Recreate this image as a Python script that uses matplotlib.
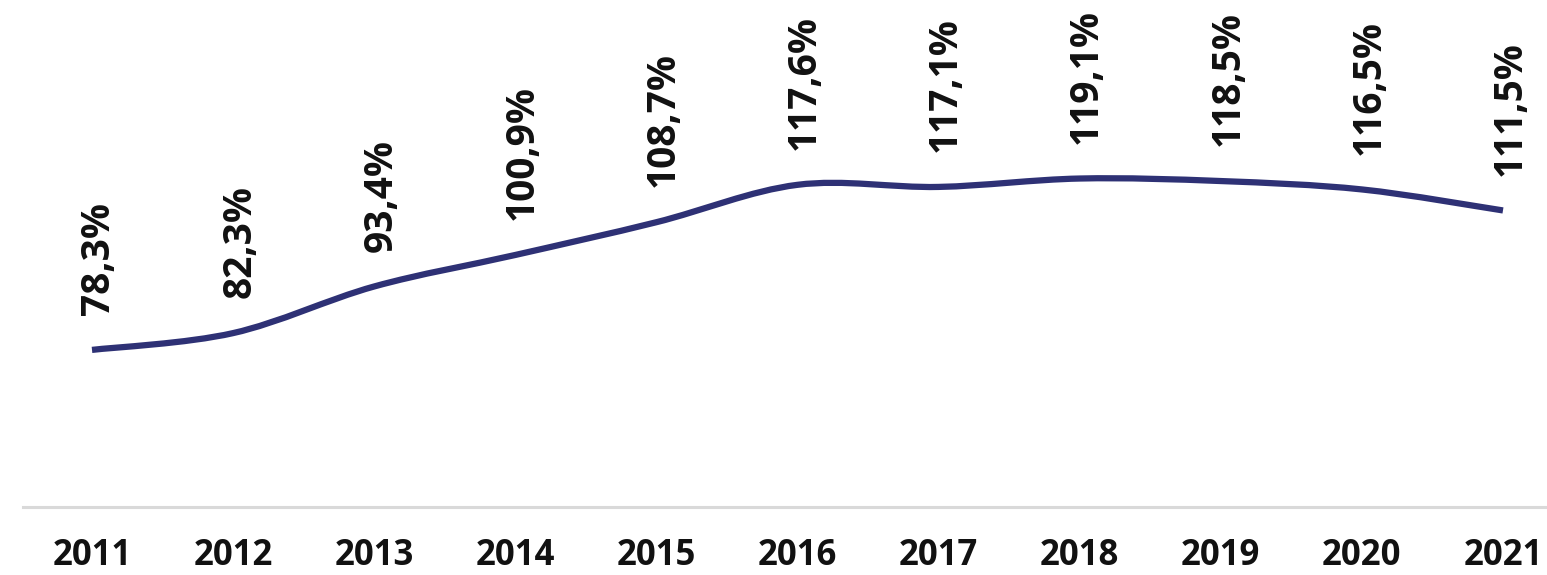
import matplotlib.pyplot as plt
from matplotlib.path import Path
from matplotlib.patches import PathPatch

# Données
years = [2011, 2012, 2013, 2014, 2015, 2016, 2017, 2018, 2019, 2020, 2021]
values = [78.3, 82.3, 93.4, 100.9, 108.7, 117.6, 117.1, 119.1, 118.5, 116.5, 111.5]
labels = ['78,3%', '82,3%', '93,4%', '100,9%', '108,7%', '117,6%',
          '117,1%', '119,1%', '118,5%', '116,5%', '111,5%']

line_color = '#2e3175'
font = 'Open Sans'

fig = plt.figure(figsize=(15.47, 5.75), dpi=100)
ax = fig.add_axes([23 / 1547, 68 / 575, 1 - 23 / 1547, 1 - 68 / 575])

# Courbe lissée (Bézier cubiques à partir des points)
verts = [(years[0], values[0])]
codes = [Path.MOVETO]
n = len(years)
for i in range(n - 1):
    x0, y0 = years[max(i - 1, 0)], values[max(i - 1, 0)]
    x1, y1 = years[i], values[i]
    x2, y2 = years[i + 1], values[i + 1]
    x3, y3 = years[min(i + 2, n - 1)], values[min(i + 2, n - 1)]
    c1 = (x1 + (x2 - x0) / 6, y1 + (y2 - y0) / 6)
    c2 = (x2 - (x3 - x1) / 6, y2 - (y3 - y1) / 6)
    verts += [c1, c2, (x2, y2)]
    codes += [Path.CURVE4] * 3
ax.add_patch(PathPatch(Path(verts, codes), facecolor='none',
                       edgecolor=line_color, lw=4.5, capstyle='butt'))

# Étiquettes des valeurs
for x, v, lab in zip(years, values, labels):
    ax.annotate(lab, (x, v), xytext=(5, 25), textcoords='offset points',
                rotation=90, ha='center', va='bottom', fontsize=28,
                fontweight='bold', family=font, color='#111111')

ax.set_xlim(2010.511, 2021.312)
ax.set_ylim(40.9, 161.6)
ax.set_xticks(years)
ax.set_xticklabels([str(y) for y in years], fontsize=25, fontweight='bold',
                   family=font, color='#111111')
ax.tick_params(axis='x', length=0, pad=22)
ax.set_yticks([])
for side in ['top', 'right', 'left']:
    ax.spines[side].set_visible(False)
ax.spines['bottom'].set_color('#d9d9d9')
ax.spines['bottom'].set_linewidth(2.2)

fig.savefig('out.png', dpi=100)
